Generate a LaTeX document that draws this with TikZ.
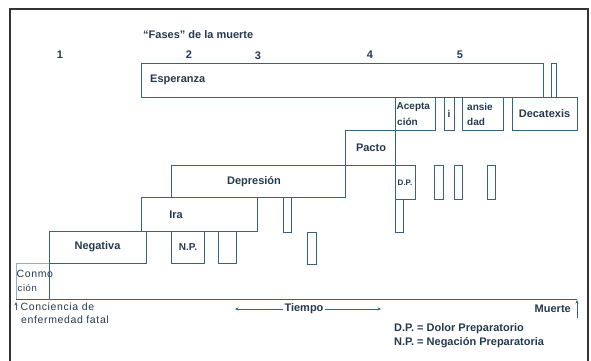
\documentclass[tikz,border=0pt]{standalone}
\usepackage{fontspec}
\setmainfont{Liberation Sans}
\usetikzlibrary{arrows.meta}
\definecolor{ln}{RGB}{55,100,122}
\definecolor{lnfaint}{RGB}{150,175,190}
\definecolor{tx}{RGB}{38,58,78}
\newfontfamily\widefont[LetterSpace=6]{Liberation Sans}
\newcommand\mybox[5]{\node[bx, anchor=north west, minimum width={#4-#2}, minimum height={#5-#3}] (#1) at (#2,#3) {};}
\begin{document}
\begin{tikzpicture}[x=1pt,y=-1pt,
  bx/.style={draw=ln, line width=1pt, inner sep=0pt, outer sep=0pt},
  lbl/.style={text=tx, font=\bfseries\fontsize{11}{12}\selectfont, inner sep=0pt},
  sm/.style={text=tx, font=\bfseries\fontsize{10}{11}\selectfont, inner sep=0pt},
  rg/.style={text=tx, font=\widefont\fontsize{10.5}{11}\selectfont, inner sep=0pt},
  conn/.style={draw=ln, line width=1pt},
  tip/.style={-{Stealth[length=3.5pt,width=3pt]}}
]
\useasboundingbox (0,0) rectangle (591,361);
\fill[white] (0,0) rectangle (591,361);
\draw[line width=1.3pt, draw=black!80] (10,362) -- (10,9) -- (588,9) -- (588,362);

% title and phase numbers
\node[lbl, anchor=west] (title) at (143,35) {“Fases” de la muerte};
\node[lbl] (n1) at (60,55) {1};
\node[lbl] (n2) at (189,55) {2};
\node[lbl] (n3) at (258,56) {3};
\node[lbl] (n4) at (370,55) {4};
\node[lbl] (n5) at (460,55) {5};

% boxes
\mybox{esp}{141}{63}{543}{97}
\mybox{thinA}{551}{63}{556}{97}
\mybox{acep}{395}{97}{435}{130}
\mybox{ibox}{444}{97}{454}{130}
\mybox{ansi}{462}{97}{503}{130}
\mybox{deca}{512}{97}{577}{130}
\mybox{pacto}{345}{130}{395}{165}
\mybox{depr}{171}{165}{345}{197}
\mybox{dp}{395}{165}{415}{199}
\mybox{thinB}{434}{165}{443}{199}
\mybox{thinC}{454}{165}{462}{199}
\mybox{thinD}{487}{165}{495}{199}
\mybox{thinE}{395}{199}{403}{232}
\mybox{ira}{141}{197}{257}{231}
\mybox{thinF}{283}{197}{291}{232}
\mybox{nega}{49}{231}{146}{263}
\mybox{np}{171}{231}{204}{263}
\mybox{thinG}{218}{231}{236}{263}
\mybox{thinH}{307}{232}{316}{264}

% Conmoción region and time base line
\coordinate (cTL) at (16,263);
\coordinate (cBL) at (16,299);
\coordinate (cBR) at (577,299);
\coordinate (cNB) at (49,299);
\draw[draw=lnfaint, line width=0.8pt] (nega.south west) -- (cTL) -- (cBL);
\draw[conn] (cBL) -- (cBR);
\draw[conn] (nega.south west) -- (cNB);

% texts in boxes
\node[lbl, anchor=west] (tesp) at (150,80) {Esperanza};
\node[sm, anchor=west] (tac1) at (396.5,107) {Acepta};
\node[sm, anchor=west] (tac2) at (397,122) {ción};
\node[sm] (ti) at (ibox) {i};
\node[sm, anchor=west] (tan1) at (467,107) {ansie};
\node[sm, anchor=west] (tan2) at (467,122) {dad};
\node[lbl] (tdec) at (544.5,114) {Decatexis};
\node[lbl] (tpac) at (371,148) {Pacto};
\node[lbl] (tdep) at (254,182) {Depresión};
\node[sm, font=\bfseries\fontsize{8}{9}\selectfont] (tdp) at (405,183) {D.P.};
\node[lbl] (tira) at (176,215) {Ira};
\node[lbl] (tneg) at (97.5,247) {Negativa};
\node[sm] (tnp) at (188,247) {N.P.};
\node[rg, anchor=west] (tcon1) at (16.5,274) {Conmo};
\node[rg, anchor=west, font=\widefont\fontsize{9.5}{10}\selectfont] (tcon2) at (17.5,288) {ción};

% bottom annotations
\coordinate (ccA) at (16,310);
\coordinate (ccB) at (16,302);
\draw[conn, line width=0.7pt, tip] (ccA) -- (ccB);
\node[rg, anchor=west] (tcc1) at (20.5,307) {Conciencia de};
\node[rg, anchor=west] (tcc2) at (21,320) {enfermedad fatal};

\node[lbl] (ttie) at (304,309) {Tiempo};
\coordinate (tL) at (235,309);
\coordinate (tR) at (381,309);
\draw[conn, line width=0.7pt, tip] ([xshift=-1pt]ttie.west) -- (tL);
\draw[conn, line width=0.7pt, tip] ([xshift=1pt]ttie.east) -- (tR);

\node[lbl, anchor=east] (tmue) at (571,309) {Muerte};
\coordinate (mA) at (577,318);
\coordinate (mB) at (577,300);
\draw[conn, line width=0.8pt, tip] (mA) -- (mB);

\node[lbl, anchor=west] (leg1) at (394,329) {D.P. = Dolor Preparatorio};
\node[lbl, anchor=west] (leg2) at (394,343) {N.P. = Negación Preparatoria};
\end{tikzpicture}
\end{document}
